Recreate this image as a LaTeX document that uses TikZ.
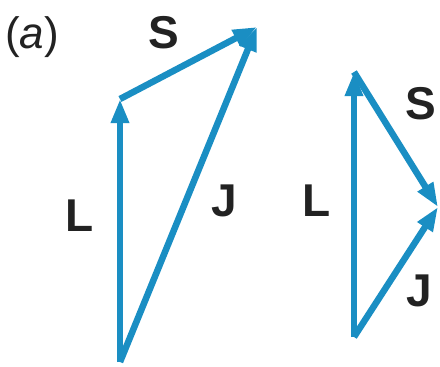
\documentclass[tikz,border=0pt]{standalone}
\usepackage{fontspec}
\setmainfont{Liberation Sans}
\usetikzlibrary{arrows.meta}
\definecolor{vecblue}{HTML}{1A8EC3}
\definecolor{ink}{HTML}{222222}
\tikzset{
  vec/.style={draw=vecblue,line width=6.5pt,-{Triangle[length=24pt,width=17pt]}},
  lbl/.style={text=ink,font=\fontsize{46}{46}\selectfont\bfseries,inner sep=0pt},
}
\begin{document}
\begin{tikzpicture}[x=1pt,y=-1pt]
  \useasboundingbox (0,0) rectangle (440,367);
  \node[text=ink,font=\fontsize{44}{44}\selectfont,anchor=west,inner sep=0pt] (tag) at (5,37) {(\textit{a})};
  % left triangle
  \coordinate (lo) at (120,362);
  \coordinate (lm) at (120,99);
  \coordinate (lt) at (257,27);
  \draw[vec] (lo) -- (lm);
  \draw[vec] (lm) -- (lt);
  \draw[vec] (lo) -- (lt);
  \node[lbl] (L1) at (80,216) {L};
  \node[lbl] (S1) at (164,33) {S};
  \node[lbl] (J1) at (224,201) {J};
  % right triangle
  \coordinate (ro) at (354,337);
  \coordinate (rt) at (354,72);
  \coordinate (rr) at (438,207);
  \draw[vec] (ro) -- (rt);
  \draw[vec] (rt) -- (rr);
  \draw[vec] (ro) -- (rr);
  \node[lbl] (L2) at (317,201) {L};
  \node[lbl] (S2) at (421,104) {S};
  \node[lbl] (J2) at (419,291) {J};
\end{tikzpicture}
\end{document}
